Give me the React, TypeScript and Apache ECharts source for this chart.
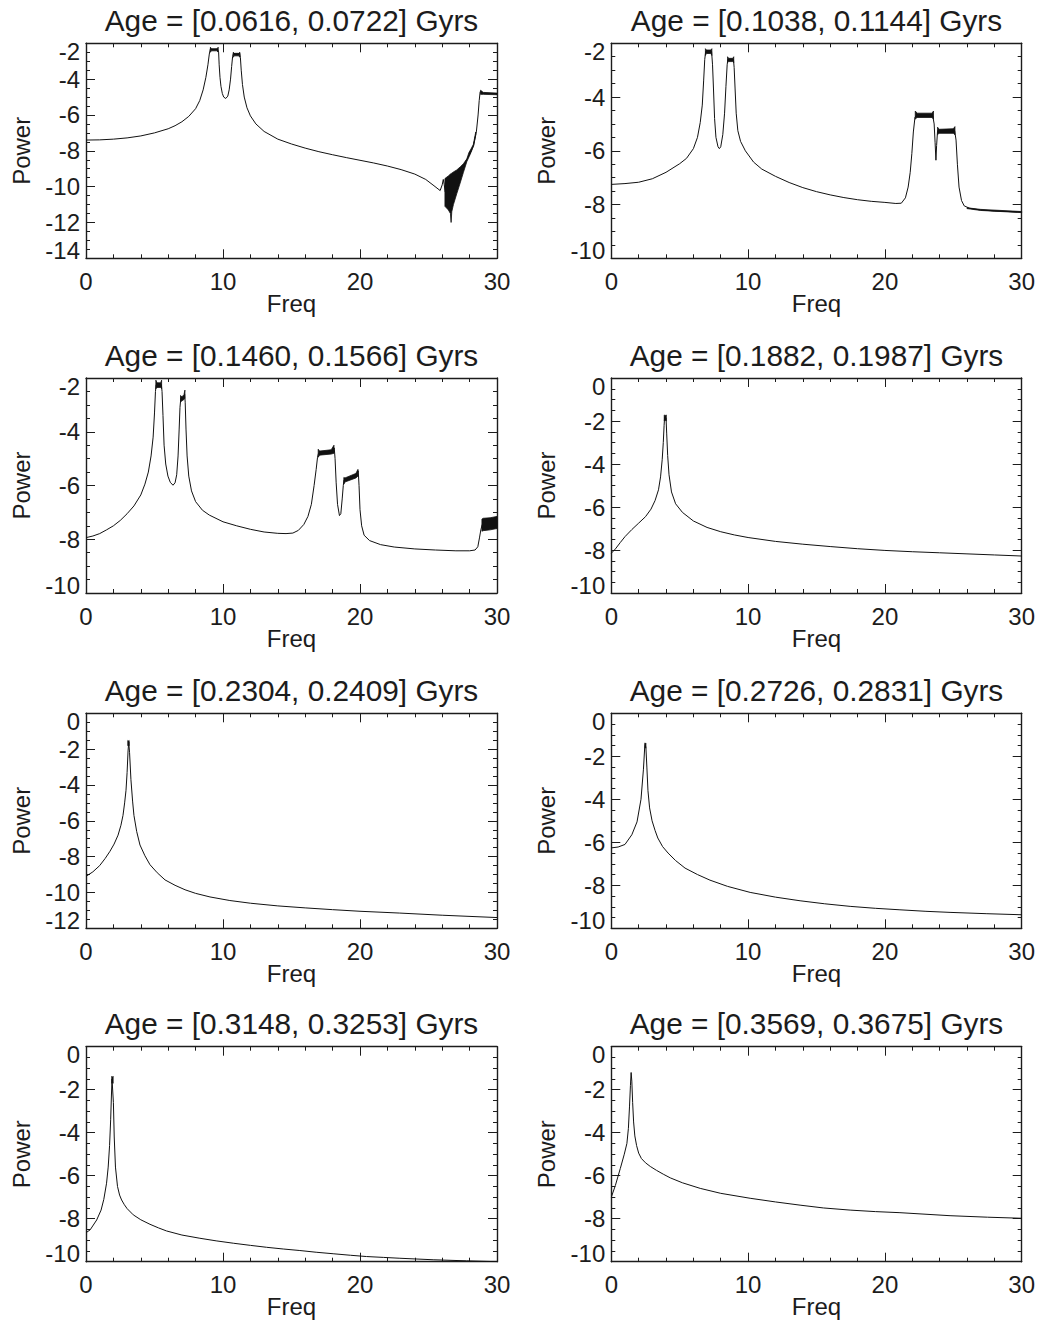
import React, { useEffect, useRef } from 'react';
import * as echarts from 'echarts';

const titles = [
  'Age = [0.0616, 0.0722] Gyrs',
  'Age = [0.1038, 0.1144] Gyrs',
  'Age = [0.1460, 0.1566] Gyrs',
  'Age = [0.1882, 0.1987] Gyrs',
  'Age = [0.2304, 0.2409] Gyrs',
  'Age = [0.2726, 0.2831] Gyrs',
  'Age = [0.3148, 0.3253] Gyrs',
  'Age = [0.3569, 0.3675] Gyrs',
];
const xMin = 0;
const xMax = 30;
const xStep = 10;
const yStep = 2;
const yMins = [-14, -10, -10, -10, -12, -10, -10, -10];
const yMaxs = [-2, -2, -2, 0, 0, 0, 0, 0];

type P = [number, number];
type B = [number, number, number][];

const curve1: P[] = [[0,-7.40],[1,-7.39],[2,-7.35],[3,-7.28],[4,-7.17],[5,-7.0],[6,-6.77],[6.5,-6.6],[7,-6.38],[7.5,-6.08],[8,-5.65],[8.3,-5.2],[8.55,-4.6],[8.75,-3.9],[8.9,-3.2],[9.0,-2.6],[9.08,-2.3],[9.2,-2.35],[9.4,-2.35],[9.6,-2.33],[9.68,-2.5],[9.72,-3.2],[9.78,-3.9],[9.85,-4.4],[9.95,-4.8],[10.05,-5.0],[10.2,-5.08],[10.35,-4.95],[10.45,-4.6],[10.55,-4.0],[10.63,-3.3],[10.7,-2.75],[10.76,-2.55],[10.9,-2.6],[11.1,-2.6],[11.22,-2.55],[11.27,-2.8],[11.33,-3.5],[11.42,-4.3],[11.55,-5.0],[11.75,-5.6],[12.0,-6.05],[12.4,-6.5],[13,-6.92],[14,-7.35],[15,-7.62],[16,-7.85],[17,-8.05],[18,-8.22],[19,-8.38],[20,-8.53],[21,-8.68],[22,-8.85],[23,-9.05],[24,-9.3],[24.8,-9.6],[25.4,-9.95],[25.85,-10.22],[26.0,-9.9],[26.08,-9.6],[26.15,-9.9],[26.22,-10.3],[26.5,-10.2],[27,-9.6],[27.5,-8.9],[28,-8.2],[28.3,-7.7],[28.5,-6.9],[28.62,-6.0],[28.7,-5.2],[28.77,-4.7],[28.85,-4.72],[29.0,-4.78],[29.5,-4.8],[30,-4.82]];
const bands1: B[] = [
  [[9.08,-2.5,-2.22],[9.15,-2.42,-2.3],[9.55,-2.42,-2.3],[9.65,-2.5,-2.22]],
  [[10.75,-2.78,-2.5],[10.82,-2.7,-2.56],[11.15,-2.7,-2.56],[11.23,-2.78,-2.5]],
  [[26.2,-11.1,-9.55],[26.45,-11.3,-9.4],[26.6,-11.5,-9.3],[26.65,-12.0,-9.27],[26.7,-11.4,-9.25],[26.82,-11.0,-9.18],[27.06,-10.4,-9.07],[27.31,-9.8,-8.9],[27.55,-9.2,-8.72],[27.8,-8.6,-8.45],[27.95,-8.35,-8.1],[28.1,-8.1,-7.9],[28.27,-7.75,-7.65],[28.45,-7.1,-6.95]],
  [[28.8,-4.85,-4.62],[29.0,-4.85,-4.74],[30,-4.87,-4.78]],
];

const curve2: P[] = [[0,-7.25],[1,-7.22],[2,-7.17],[3,-7.04],[4,-6.8],[5,-6.48],[5.5,-6.28],[6,-5.92],[6.3,-5.5],[6.5,-4.95],[6.65,-4.3],[6.75,-3.4],[6.83,-2.6],[6.9,-2.3],[7.1,-2.3],[7.33,-2.3],[7.4,-2.8],[7.47,-3.7],[7.55,-4.8],[7.65,-5.5],[7.8,-5.85],[7.9,-5.92],[8.0,-5.85],[8.15,-5.4],[8.28,-4.6],[8.38,-3.6],[8.47,-2.8],[8.52,-2.6],[8.7,-2.62],[8.93,-2.6],[8.98,-2.9],[9.05,-3.7],[9.13,-4.6],[9.25,-5.25],[9.45,-5.65],[9.8,-6.0],[10.4,-6.42],[11,-6.68],[12,-6.95],[13,-7.18],[14,-7.37],[15,-7.52],[16,-7.64],[17,-7.74],[18,-7.82],[19,-7.88],[20,-7.92],[20.8,-7.96],[21.2,-7.95],[21.5,-7.75],[21.7,-7.35],[21.85,-6.8],[21.97,-6.1],[22.08,-5.3],[22.2,-4.75],[22.3,-4.68],[23.0,-4.68],[23.5,-4.7],[23.6,-5.0],[23.67,-5.7],[23.73,-6.35],[23.78,-5.8],[23.85,-5.25],[24.5,-5.27],[25.1,-5.25],[25.2,-5.6],[25.3,-6.5],[25.42,-7.35],[25.6,-7.85],[25.8,-8.05],[26.2,-8.14],[27,-8.2],[28,-8.24],[29,-8.26],[30,-8.28]];
const bands2: B[] = [
  [[6.88,-2.45,-2.2],[6.95,-2.38,-2.25],[7.28,-2.38,-2.25],[7.35,-2.45,-2.2]],
  [[8.5,-2.72,-2.5],[8.57,-2.68,-2.56],[8.88,-2.68,-2.56],[8.95,-2.72,-2.5]],
  [[22.22,-4.82,-4.52],[22.35,-4.76,-4.6],[23.45,-4.76,-4.6],[23.55,-4.82,-4.52]],
  [[23.85,-5.4,-5.12],[23.95,-5.35,-5.2],[25.0,-5.35,-5.18],[25.12,-5.4,-5.1]],
  [[26.0,-8.15,-8.12],[27,-8.22,-8.18],[30,-8.3,-8.26]],
];

const curve3: P[] = [[0,-7.94],[0.5,-7.88],[1,-7.79],[1.5,-7.65],[2,-7.5],[2.5,-7.3],[3,-7.05],[3.5,-6.76],[4,-6.35],[4.3,-5.95],[4.55,-5.5],[4.75,-4.9],[4.9,-4.2],[5.0,-3.3],[5.07,-2.5],[5.12,-2.25],[5.3,-2.27],[5.5,-2.24],[5.55,-2.5],[5.62,-3.4],[5.7,-4.5],[5.82,-5.2],[5.98,-5.65],[6.15,-5.88],[6.35,-5.99],[6.5,-5.9],[6.62,-5.6],[6.72,-4.9],[6.8,-3.9],[6.86,-3.1],[6.92,-2.75],[7.05,-2.78],[7.15,-2.72],[7.2,-2.6],[7.24,-2.9],[7.3,-3.9],[7.38,-4.9],[7.5,-5.65],[7.7,-6.2],[8,-6.6],[8.5,-6.92],[9,-7.1],[10,-7.35],[11,-7.5],[12,-7.63],[13,-7.73],[14,-7.78],[14.6,-7.79],[15.1,-7.77],[15.5,-7.67],[15.9,-7.45],[16.2,-7.15],[16.45,-6.7],[16.65,-6.0],[16.8,-5.4],[16.9,-4.95],[16.97,-4.8],[17.5,-4.78],[18.0,-4.73],[18.12,-4.6],[18.18,-5.0],[18.26,-5.9],[18.36,-6.7],[18.5,-7.12],[18.6,-7.05],[18.7,-6.5],[18.78,-6.0],[18.83,-5.8],[19.3,-5.7],[19.8,-5.55],[19.87,-5.45],[19.93,-6.0],[20.0,-6.9],[20.12,-7.5],[20.3,-7.85],[20.7,-8.05],[21.5,-8.2],[22.5,-8.29],[24,-8.36],[25.5,-8.4],[27,-8.43],[28,-8.43],[28.4,-8.4],[28.6,-8.28],[28.72,-7.95],[28.82,-7.65],[28.92,-7.45],[29.5,-7.4],[30,-7.35]];
const bands3: B[] = [
  [[5.1,-2.4,-2.08],[5.18,-2.35,-2.18],[5.45,-2.35,-2.18],[5.52,-2.4,-2.08]],
  [[6.9,-2.9,-2.65],[7.0,-2.85,-2.7],[7.15,-2.8,-2.62],[7.22,-2.75,-2.45]],
  [[16.95,-4.95,-4.65],[17.05,-4.87,-4.72],[17.9,-4.83,-4.67],[18.1,-4.8,-4.5]],
  [[18.82,-5.95,-5.7],[18.9,-5.87,-5.72],[19.7,-5.72,-5.55],[19.85,-5.65,-5.4]],
  [[28.9,-7.7,-7.25],[29.0,-7.68,-7.22],[29.5,-7.65,-7.2],[30,-7.6,-7.15]],
];

const curve4: P[] = [[0,-8.15],[0.3,-7.95],[0.66,-7.65],[1.0,-7.38],[1.5,-7.05],[2.0,-6.75],[2.5,-6.45],[2.9,-6.1],[3.2,-5.7],[3.45,-5.2],[3.6,-4.6],[3.72,-3.8],[3.8,-3.0],[3.86,-2.2],[3.9,-1.8],[3.95,-1.8],[4.0,-1.85],[4.05,-2.6],[4.12,-3.6],[4.22,-4.5],[4.4,-5.3],[4.7,-5.85],[5.2,-6.25],[6,-6.65],[7,-6.95],[8,-7.15],[9,-7.3],[10,-7.42],[12,-7.6],[14,-7.73],[16,-7.84],[18,-7.94],[20,-8.02],[22,-8.08],[24,-8.13],[26,-8.18],[28,-8.23],[30,-8.28]];
const bands4: B[] = [
  [[3.87,-2.0,-1.72],[3.93,-1.95,-1.75],[4.02,-2.0,-1.72]],
];

const curve5: P[] = [[0,-9.1],[0.5,-8.85],[1.0,-8.5],[1.4,-8.1],[1.75,-7.7],[2.05,-7.3],[2.34,-6.8],[2.55,-6.25],[2.7,-5.7],[2.82,-5.0],[2.92,-4.3],[3.0,-3.3],[3.07,-2.1],[3.12,-1.6],[3.18,-2.2],[3.28,-3.7],[3.4,-4.9],[3.5,-5.7],[3.7,-6.6],[3.94,-7.35],[4.3,-7.95],[4.67,-8.45],[5.2,-8.9],[5.77,-9.3],[6.5,-9.6],[7.23,-9.85],[8,-10.05],[9.05,-10.25],[10.5,-10.45],[12,-10.6],[14,-10.75],[16,-10.86],[18,-10.96],[20,-11.05],[22.9,-11.15],[26,-11.27],[30,-11.4]];
const bands5: B[] = [
  [[3.05,-1.8,-1.52],[3.1,-1.75,-1.55],[3.15,-1.8,-1.52]],
];

const curve6: P[] = [[0,-6.26],[0.5,-6.22],[1.0,-6.1],[1.5,-5.65],[1.88,-5.05],[2.17,-4.0],[2.35,-2.6],[2.44,-1.6],[2.48,-1.45],[2.53,-1.6],[2.6,-2.5],[2.68,-3.6],[2.8,-4.4],[2.98,-5.0],[3.2,-5.45],[3.4,-5.8],[3.75,-6.2],[4.15,-6.5],[4.7,-6.85],[5.39,-7.2],[6.3,-7.5],[7.21,-7.76],[8.5,-8.05],[10.15,-8.33],[12,-8.55],[13.8,-8.72],[15.6,-8.86],[17.46,-8.98],[19.3,-9.07],[21.1,-9.14],[23,-9.21],[24.76,-9.26],[27.4,-9.32],[30,-9.37]];
const bands6: B[] = [
  [[2.45,-1.62,-1.38],[2.49,-1.58,-1.4],[2.53,-1.62,-1.38]],
];

const curve7: P[] = [[0,-8.65],[0.3,-8.52],[0.78,-8.06],[1.1,-7.6],[1.3,-7.1],[1.5,-6.35],[1.62,-5.6],[1.72,-4.6],[1.8,-3.4],[1.86,-2.2],[1.9,-1.5],[1.95,-1.5],[2.0,-2.6],[2.06,-4.2],[2.15,-5.6],[2.3,-6.5],[2.45,-6.9],[2.6,-7.13],[2.8,-7.35],[3.0,-7.53],[3.45,-7.82],[4.0,-8.05],[4.67,-8.26],[5.3,-8.43],[5.88,-8.57],[7,-8.76],[8.31,-8.91],[9.5,-9.03],[10.75,-9.14],[12,-9.24],[13.18,-9.33],[14.4,-9.41],[15.61,-9.48],[16.8,-9.56],[18.04,-9.63],[19.3,-9.7],[20.47,-9.76],[21.7,-9.8],[22.91,-9.84],[25.34,-9.91],[27.77,-9.96],[30,-10.0]];
const bands7: B[] = [
  [[1.88,-1.7,-1.38],[1.93,-1.65,-1.42],[1.98,-1.7,-1.38]],
];

const curve8: P[] = [[0,-7.0],[0.3,-6.45],[0.66,-5.66],[0.95,-5.0],[1.14,-4.5],[1.25,-3.8],[1.33,-2.8],[1.4,-1.8],[1.45,-1.2],[1.5,-1.6],[1.56,-2.6],[1.63,-3.5],[1.72,-4.15],[1.85,-4.6],[2.0,-4.95],[2.2,-5.2],[2.5,-5.4],[2.85,-5.57],[3.3,-5.75],[3.8,-5.93],[4.31,-6.1],[5.2,-6.33],[6.5,-6.59],[8,-6.82],[10.15,-7.05],[12,-7.22],[13.8,-7.37],[15.5,-7.5],[17.46,-7.6],[19.3,-7.67],[21.1,-7.72],[24.76,-7.86],[27.5,-7.93],[30,-7.98]];
const bands8: B[] = [];

const curves = [curve1, curve2, curve3, curve4, curve5, curve6, curve7, curve8];
const bandSets = [bands1, bands2, bands3, bands4, bands5, bands6, bands7, bands8];

const FONT = '"Liberation Sans", Arial, Helvetica, sans-serif';
const INK = '#1c1c1c';
const colLeft = [86, 611.3];
const colWidth = [411, 410.4];
const rowTop = [43.3, 378, 713.3, 1046.7];
const plotH = 215;

function axisBase(min: number, max: number, interval: number, minorSplit: number) {
  return {
    type: 'value',
    min,
    max,
    interval,
    axisLine: { show: true, onZero: false, lineStyle: { color: INK, width: 1.4 } },
    axisTick: { show: true, inside: true, length: 9, lineStyle: { color: INK, width: 1 } },
    minorTick: { show: true, splitNumber: minorSplit, length: 4, lineStyle: { color: INK, width: 1 } },
    splitLine: { show: false },
    minorSplitLine: { show: false },
    nameMoveOverlap: false,
  };
}

function buildOption() {
  const grid: any[] = [];
  const xAxis: any[] = [];
  const yAxis: any[] = [];
  const series: any[] = [];
  const graphic: any[] = [];
  for (let i = 0; i < 8; i++) {
    const r = Math.floor(i / 2);
    const c = i % 2;
    const left = colLeft[c];
    const top = rowTop[r];
    grid.push({ left, top, width: colWidth[c], height: plotH, containLabel: false, outerBoundsMode: 'none', show: false });
    xAxis.push({
      ...axisBase(xMin, xMax, xStep, 5),
      gridIndex: i,
      position: 'bottom',
      name: 'Freq',
      nameLocation: 'middle',
      nameGap: 33,
      nameTextStyle: { fontSize: 24, color: INK, fontFamily: FONT },
      axisLabel: { show: true, fontSize: 24, color: INK, fontFamily: FONT, margin: 11, showMinLabel: true, showMaxLabel: true, hideOverlap: false },
    });
    xAxis.push({
      ...axisBase(xMin, xMax, xStep, 5),
      gridIndex: i,
      position: 'top',
      axisLabel: { show: false },
    });
    yAxis.push({
      ...axisBase(yMins[i], yMaxs[i], yStep, 4),
      gridIndex: i,
      position: 'left',
      name: 'Power',
      nameLocation: 'middle',
      nameGap: 53,
      nameRotate: 90,
      nameTextStyle: { fontSize: 24, color: INK, fontFamily: FONT },
      axisLabel: {
        show: true, fontSize: 24, color: INK, fontFamily: FONT, margin: 6, lineHeight: 16,
        showMinLabel: true, showMaxLabel: true, hideOverlap: false,
        verticalAlignMinLabel: 'bottom', verticalAlignMaxLabel: 'top',
      },
    });
    yAxis.push({
      ...axisBase(yMins[i], yMaxs[i], yStep, 4),
      gridIndex: i,
      position: 'right',
      axisLabel: { show: false },
    });
    series.push({
      type: 'line',
      xAxisIndex: 2 * i,
      yAxisIndex: 2 * i,
      data: curves[i],
      showSymbol: false,
      symbol: 'none',
      silent: true,
      lineStyle: { color: '#111', width: 1 },
      z: 3,
    });
    const bands = bandSets[i];
    if (bands.length) {
      series.push({
        type: 'custom',
        xAxisIndex: 2 * i,
        yAxisIndex: 2 * i,
        silent: true,
        z: 4,
        data: bands.map((b) => [b[0][0], b[0][2]]),
        encode: { x: 0, y: 1 },
        renderItem: (params: any, api: any) => {
          const band = bands[params.dataIndex];
          const up = band.map((p) => api.coord([p[0], p[2]]));
          const lo = band.slice().reverse().map((p) => api.coord([p[0], p[1]]));
          return {
            type: 'polygon',
            shape: { points: up.concat(lo) },
            style: { fill: '#111', stroke: '#111', lineWidth: 0.8 },
          };
        },
      });
    }
    graphic.push({
      type: 'text',
      x: left + colWidth[c] / 2,
      y: top - 23,
      style: {
        text: titles[i],
        fontSize: 29.8,
        fontFamily: FONT,
        fill: INK,
        align: 'center',
        verticalAlign: 'middle',
      },
    });
  }
  return {
    animation: false,
    backgroundColor: '#ffffff',
    grid,
    xAxis,
    yAxis,
    series,
    graphic,
  };
}

export default function App() {
  const ref = useRef<HTMLDivElement>(null);
  useEffect(() => {
    if (!ref.current) return;
    const chart = echarts.init(ref.current, null, { renderer: 'svg' });
    chart.setOption(buildOption() as any);
    return () => chart.dispose();
  }, []);
  return (
    <div
      ref={ref}
      style={{ position: 'absolute', left: 0, top: 0, width: 1039, height: 1321, background: '#fff' }}
    />
  );
}
